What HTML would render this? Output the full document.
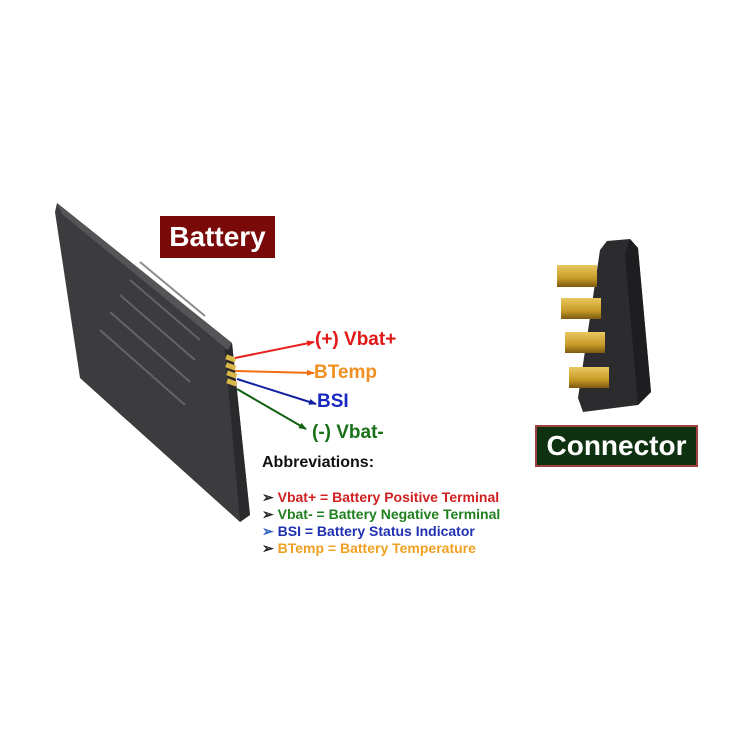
<!DOCTYPE html>
<html><head><meta charset="utf-8"><style>
body{margin:0;width:750px;height:750px;background:#fff;position:relative;overflow:hidden;font-family:"Liberation Sans",sans-serif;}
.t{position:absolute;font-weight:bold;white-space:nowrap;}
</style></head><body>
<svg width="750" height="750" style="position:absolute;left:0;top:0">
<defs>
<marker id="ar" markerWidth="8" markerHeight="8" refX="7" refY="4" orient="auto" markerUnits="userSpaceOnUse"><path d="M0,1 L8,4 L0,7z" fill="context-stroke"/></marker>
<linearGradient id="gold" x1="0" y1="0" x2="0" y2="1"><stop offset="0" stop-color="#e8c860"/><stop offset="0.6" stop-color="#c89a28"/><stop offset="1" stop-color="#7a5a10"/></linearGradient>
</defs>
<polygon points="57,203 232,343 250,515 240,522 80,378 55,212" fill="#3c3c3e"/>
<polygon points="225,350 232,343 250,515 240,522" fill="#2a2a2c"/>
<polygon points="57,203 232,343 228,350 62,214" fill="#555558"/>
<g stroke="#6e6e70" stroke-width="2" opacity="0.8">
<line x1="140" y1="262" x2="205" y2="316"/>
<line x1="130" y1="280" x2="200" y2="340"/>
<line x1="120" y1="295" x2="195" y2="360"/>
<line x1="110" y1="312" x2="190" y2="382"/>
<line x1="100" y1="330" x2="185" y2="405"/>
</g>
<g fill="#d8b848">
<rect x="226" y="356" width="10" height="5" transform="rotate(20 231 358)"/>
<rect x="226" y="364" width="10" height="5" transform="rotate(20 231 366)"/>
<rect x="227" y="372" width="10" height="5" transform="rotate(20 232 374)"/>
<rect x="227" y="380" width="10" height="5" transform="rotate(20 232 382)"/>
</g>
<line x1="235" y1="358" x2="314" y2="342" stroke="#e82020" stroke-width="2" marker-end="url(#ar)"/>
<line x1="235" y1="371" x2="314" y2="373" stroke="#f07010" stroke-width="2" marker-end="url(#ar)"/>
<line x1="237" y1="379" x2="316" y2="404" stroke="#1020a0" stroke-width="2" marker-end="url(#ar)"/>
<line x1="237" y1="389" x2="306" y2="429" stroke="#106010" stroke-width="2" marker-end="url(#ar)"/>
<polygon points="607,241 630,239 638,248 651,392 638,405 583,412 578,398 600,250" fill="#2c2c2e"/>
<polygon points="630,239 638,248 651,392 638,405 625,255" fill="#1e1e20"/>
<rect x="557" y="265" width="40" height="22" fill="url(#gold)"/>
<rect x="561" y="298" width="40" height="21" fill="url(#gold)"/>
<rect x="565" y="332" width="40" height="21" fill="url(#gold)"/>
<rect x="569" y="367" width="40" height="21" fill="url(#gold)"/>
</svg>
<div class="t" style="left:160px;top:216px;width:115px;height:42px;background:#7a0a0a;color:#fff;font-size:28px;line-height:42px;text-align:center">Battery</div>
<div class="t" style="left:535px;top:425px;width:159px;height:38px;background:#0e3210;border:2px solid #a04040;color:#fff;font-size:28px;line-height:38px;text-align:center">Connector</div>
<div class="t" style="left:315px;top:329px;font-size:19px;color:#e01818">(+) Vbat+</div>
<div class="t" style="left:314px;top:362px;font-size:19px;color:#f09020">BTemp</div>
<div class="t" style="left:317px;top:391px;font-size:19px;color:#1828c0">BSI</div>
<div class="t" style="left:312px;top:422px;font-size:19px;color:#187018">(-) Vbat-</div>
<div class="t" style="left:262px;top:454px;font-size:16px;color:#111">Abbreviations:</div>
<div class="t" style="left:262px;top:489px;font-size:14px;line-height:17px">
<div style="color:#d02020"><span style="color:#222">➢</span> Vbat+ = Battery Positive Terminal</div>
<div style="color:#208020"><span style="color:#222">➢</span> Vbat- = Battery Negative Terminal</div>
<div style="color:#2030b0"><span style="color:#3060c0">➢</span> BSI = Battery Status Indicator</div>
<div style="color:#f0a020"><span style="color:#222">➢</span> BTemp = Battery Temperature</div>
</div>
</body></html>
